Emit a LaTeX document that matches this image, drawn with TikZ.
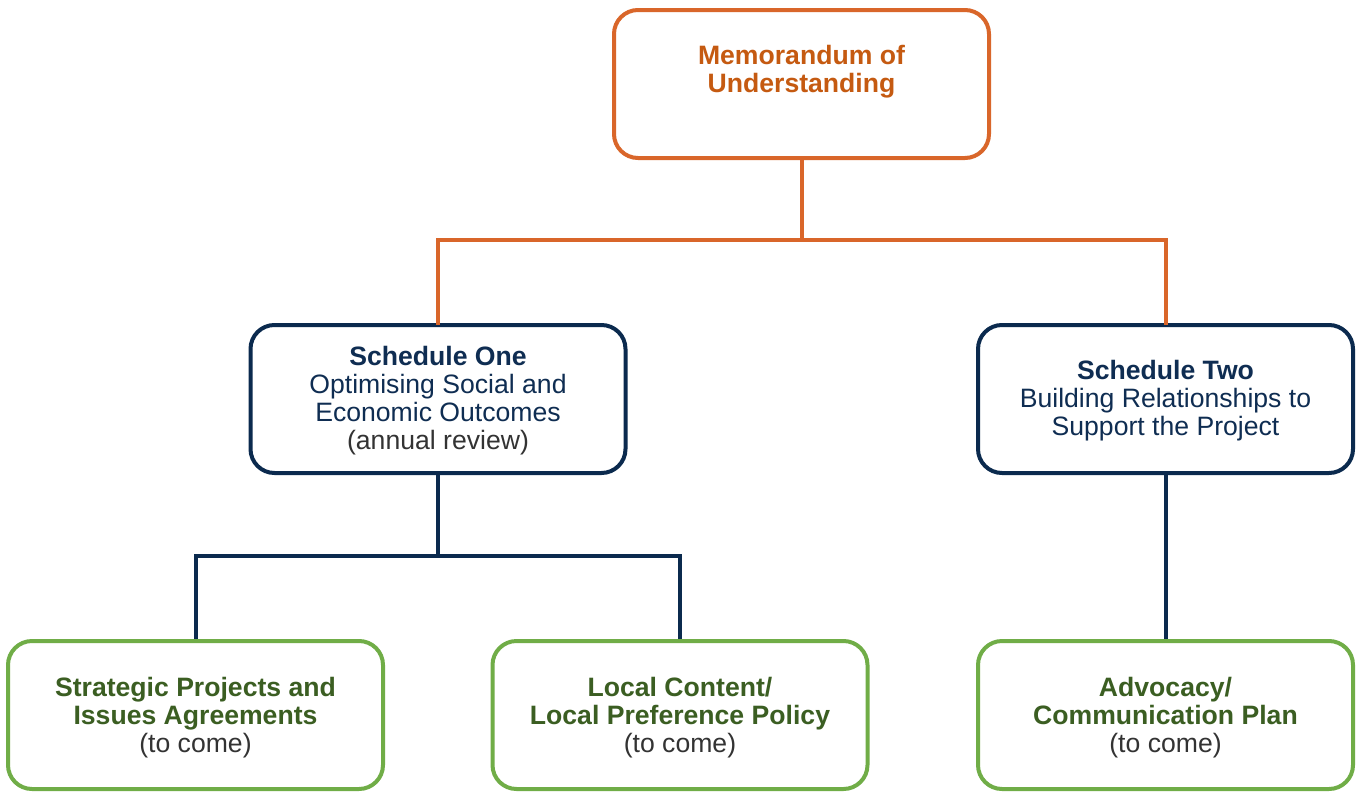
\documentclass[tikz,border=0pt]{standalone}
\usepackage{fontspec}
\setmainfont{Liberation Sans}
\definecolor{orangeline}{HTML}{D9662A}
\definecolor{orangetext}{HTML}{C55A11}
\definecolor{navy}{HTML}{0B2A4E}
\definecolor{navytext}{HTML}{0F2D52}
\definecolor{greenline}{HTML}{70AD47}
\definecolor{greentext}{HTML}{3B5E22}
\definecolor{graytext}{HTML}{333333}
\tikzset{
  box/.style={draw, line width=4pt, rounded corners=24pt, fill=white,
    minimum width=375pt, minimum height=148pt, inner sep=0pt},
  orangebox/.style={box, draw=orangeline},
  navybox/.style={box, draw=navy},
  greenbox/.style={box, draw=greenline},
  txt/.style={align=center, font=\fontsize{26.6}{28}\selectfont, inner sep=0pt},
  oconn/.style={draw=orangeline, line width=4pt},
  nconn/.style={draw=navy, line width=4pt},
}
\begin{document}
\begin{tikzpicture}[x=1pt,y=-1pt]
\useasboundingbox (0,0) rectangle (1357,795);
% boxes
\node[orangebox] (mou) at (801.5,84) {};
\node[navybox] (s1) at (438,399) {};
\node[navybox] (s2) at (1165.5,399) {};
\node[greenbox] (g1) at (195.5,715) {};
\node[greenbox] (g2) at (680,715) {};
\node[greenbox] (g3) at (1165.5,715) {};
% texts
\node[txt, text=orangetext] (moutxt) at (801.5,72) {\textbf{Memorandum of}\\\textbf{Understanding}};
\node[txt, text=navytext] (s1txt) at ([yshift=-2pt]s1.center) {\textbf{Schedule One}\\Optimising Social and\\Economic Outcomes\\\textcolor{graytext}{(annual review)}};
\node[txt, text=navytext] (s2txt) at ([yshift=-2pt]s2.center) {\textbf{Schedule Two}\\Building Relationships to\\Support the Project};
\node[txt, text=greentext] (g1txt) at ([yshift=-3pt]g1.center) {\textbf{Strategic Projects and}\\\textbf{Issues Agreements}\\\textcolor{graytext}{(to come)}};
\node[txt, text=greentext] (g2txt) at ([yshift=-3pt]g2.center) {\textbf{Local Content/}\\\textbf{Local Preference Policy}\\\textcolor{graytext}{(to come)}};
\node[txt, text=greentext] (g3txt) at ([yshift=-3pt]g3.center) {\textbf{Advocacy/}\\\textbf{Communication Plan}\\\textcolor{graytext}{(to come)}};
% connectors
\coordinate (j1) at (801.5,240);
\coordinate (j2) at (438,556);
\draw[oconn] (mou.south) -- (j1);
\draw[oconn, line cap=rect] (j1) -| (s1.north);
\draw[oconn, line cap=rect] (j1) -| (s2.north);
\draw[nconn] (s1.south) -- (j2);
\draw[nconn] (j2) -| (g1.north);
\draw[nconn] (j2) -| (g2.north);
\draw[nconn] (s2.south) -- (g3.north);
\end{tikzpicture}
\end{document}
